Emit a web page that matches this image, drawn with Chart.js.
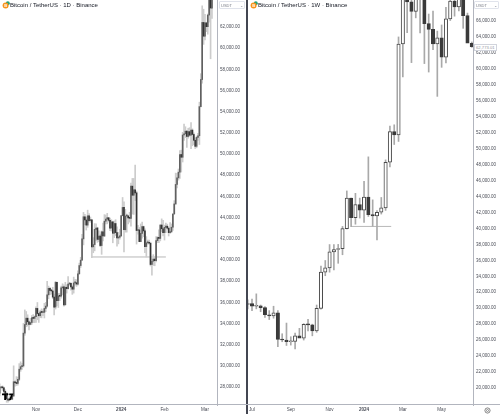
<!DOCTYPE html>
<html>
<head>
<meta charset="utf-8">
<script src="https://cdn.jsdelivr.net/npm/chart.js@4.4.0/dist/chart.umd.min.js"></script>
<style>
  html, body { margin: 0; padding: 0; background: #fff; }
  #wrap { position: relative; width: 500px; height: 414px; overflow: hidden; font-family: "Liberation Sans", Arial, sans-serif; }
  canvas { position: absolute; top: 0; }
  .title { position: absolute; top: 2px; font-size: 6px; color: #131722; white-space: nowrap; line-height: 7px; }
  .unit { position: absolute; top: 1px; height: 8px; font-size: 4px; color: #787b86; line-height: 8px; background: #fff; border: 0.5px solid #e0e3eb; border-radius: 1px; box-sizing: border-box; padding-left: 1px; }
  .unit span { position: absolute; right: 1px; top: 0; }
  .vline { position: absolute; top: 0; height: 414px; }
  .hline { position: absolute; left: 0; width: 500px; height: 1px; background: #b2b5be; }
  .last { position: absolute; font-size: 4.2px; color: #9598a1; border: 0.5px solid #d1d4dc; background: #fff; padding: 0 1px; line-height: 5px; }
  svg { position: absolute; }
</style>
</head>
<body>
<div id="wrap">
  <canvas id="cl" width="247" height="414" style="left:0"></canvas>
  <canvas id="cr" width="252" height="414" style="left:248px"></canvas>
  <div class="vline" style="left:246px;width:2px;background:#434651"></div>
  <div class="hline" style="top:404px"></div>

  <svg style="left:2px;top:1px" width="8" height="8" viewBox="0 0 8 8">
    <circle cx="5.8" cy="2.2" r="2" fill="#26a17b"/>
    <circle cx="3.6" cy="4.4" r="3" fill="#f7931a"/>
    <text x="3.6" y="6" font-size="4" font-weight="bold" fill="#fff" text-anchor="middle" font-family="Liberation Sans">B</text>
  </svg>
  <div class="title" style="left:10px">Bitcoin / TetherUS · 1D · Binance</div>
  <svg style="left:250px;top:1px" width="8" height="8" viewBox="0 0 8 8">
    <circle cx="5.8" cy="2.2" r="2" fill="#26a17b"/>
    <circle cx="3.6" cy="4.4" r="3" fill="#f7931a"/>
    <text x="3.6" y="6" font-size="4" font-weight="bold" fill="#fff" text-anchor="middle" font-family="Liberation Sans">B</text>
  </svg>
  <div class="title" style="left:258px">Bitcoin / TetherUS · 1W · Binance</div>

  <div class="unit" style="left:219px;width:26px">USDT<span>⌄</span></div>
  <div class="unit" style="left:474px;width:25px">USDT<span>⌄</span></div>
  <div class="last" style="left:474px;top:44px">62,773.01</div>

  <svg style="left:2px;top:393px" width="12" height="8" viewBox="0 0 12 8">
    <path d="M0 0.5 H4 V7 H2.2 V2.2 H0 Z" fill="#000"/>
    <circle cx="5.4" cy="1.3" r="1.1" fill="#000"/>
    <path d="M7.2 0.5 H11.5 L8.8 7 H6.8 L8.9 2.2 H7.2 Z" fill="#000"/>
  </svg>
  <svg style="left:484px;top:407px" width="7" height="7" viewBox="0 0 7 7">
    <circle cx="3.5" cy="3.5" r="2.6" fill="none" stroke="#555" stroke-width="0.7"/>
    <circle cx="3.5" cy="3.5" r="1" fill="none" stroke="#555" stroke-width="0.6"/>
  </svg>
</div>

<script>
// ---- daily panel (day 0 = 1 Oct 2023, first candle 6 Oct 2023) ----
const dailyStartDay = 5;
const dailyOpen = [
  27410, 27930, 27950, 27920, 27590, 27390, 26870, 26760, 26860, 26850, 27150, 28500, 28400, 28330, 28720, 29680, 29920, 29990, 33090, 33900, 34500, 34160, 33910, 34090, 34540, 34480,
  34640, 35420, 34940, 34730, 35080, 35040, 35050, 35420, 35640, 36700, 37320, 37130, 37070, 36490, 35550, 37880, 36160, 36600, 36570, 37360, 37450, 35760, 37420, 37290, 37720, 37790, 37450, 37240, 37830, 37850,
  37720, 38690, 39470, 39980, 41990, 44080, 43770, 43290, 44170, 43720, 43790, 41240, 41450, 42890, 43020, 41940, 42260, 41360, 42660, 42260, 43660, 43860, 43990, 43740, 43010, 43600, 42520, 43440, 42580, 42070, 42140,
  42280, 44180, 44960, 42850, 44150, 44160, 43970, 43930, 46970, 46110, 46630, 46340, 42780, 42840, 41730, 42510, 43150, 42740, 41260, 41620, 41670, 41580, 39570, 39880, 40080, 39930, 41820, 42120, 42030, 43300, 42950,
  42580, 43080, 43190, 43000, 42580, 42660, 43090, 44340, 45290, 47130, 47750, 48290, 49960, 49700, 51800, 51910, 52160, 51660, 52120, 51780, 52260, 51850, 51300, 50730, 51570, 51730, 54480, 57040, 62430,
  61130, 62390, 62030, 63130, 68240, 63790
];
const dailyHigh = [
  28290, 28050, 28110, 27990, 27740, 27480, 26940, 27090, 26980, 27290, 30000, 28610, 28980, 28940, 30210, 30380, 30240, 34000, 35280, 35130, 34820, 34250, 34480, 34750, 34840, 34720,
  35570, 35980, 34950, 35250, 35380, 35280, 35900, 35990, 37970, 37530, 37410, 37230, 37420, 36770, 37980, 37920, 36850, 36850, 37530, 37750, 37650, 37890, 37660, 38420, 37890, 37840, 37560, 38380, 38170, 38140,
  38980, 39700, 40250, 42420, 44490, 44300, 44050, 44700, 44370, 44050, 43790, 42100, 43430, 43420, 43090, 42750, 42440, 42740, 43490, 44280, 44240, 44400, 43990, 43950, 43800, 43600, 43680, 43800, 43120, 42610, 42900,
  44190, 45900, 45500, 44770, 44340, 44230, 44500, 47250, 47700, 47700, 48970, 46500, 43260, 43070, 43400, 43580, 43200, 42930, 42200, 41880, 41870, 41680, 40130, 40500, 40280, 42200, 42200, 42840, 43310, 43880, 43750,
  43290, 43490, 43380, 43120, 43530, 43400, 44380, 45600, 48200, 48170, 48590, 50330, 50370, 52050, 52820, 52580, 52200, 52440, 52490, 52980, 52380, 52000, 51540, 51700, 51960, 54900, 57590, 64000, 63680,
  63200, 62450, 63230, 68500, 69000, 67640
];
const dailyLow = [
  27160, 27860, 27690, 27270, 27290, 26560, 26560, 26690, 26820, 26800, 27110, 28080, 28140, 28180, 28600, 29480, 29660, 29880, 32880, 33690, 33750, 33390, 33870, 33920, 34080, 34080,
  34090, 34350, 34100, 34550, 34530, 34730, 34520, 35110, 35530, 36330, 36720, 36770, 36350, 34800, 35360, 35680, 35510, 36160, 36390, 36700, 35630, 35740, 36870, 37250, 37600, 37150, 36750, 36870, 37620, 37500,
  37620, 38650, 39290, 39980, 41420, 43340, 42820, 43080, 43580, 43560, 40220, 40680, 40860, 41820, 41660, 41730, 41250, 40530, 41800, 42200, 43400, 43410, 43580, 42760, 42730, 41620, 42110, 42300, 41300, 41520, 41960,
  42200, 44150, 40750, 42620, 42630, 43400, 43570, 43200, 44330, 44300, 45600, 41500, 42440, 41720, 41720, 42050, 42200, 40680, 40280, 41500, 41500, 39430, 38560, 39480, 39450, 39820, 41640, 41620, 41800, 42680, 42270,
  41880, 42580, 42880, 42260, 42500, 42570, 42780, 44330, 45240, 46800, 47540, 47710, 48300, 49250, 51280, 51560, 50630, 51500, 51670, 50520, 50780, 50890, 50520, 50590, 51280, 50900, 54450, 56690, 60360,
  60770, 61560, 61320, 62460, 59000, 62800
];
const dailyClose = [
  27930, 27950, 27920, 27590, 27390, 26870, 26760, 26860, 26850, 27150, 28500, 28400, 28330, 28720, 29680, 29920, 29990, 33090, 33900, 34500, 34160, 33910, 34090, 34540, 34480, 34640,
  35420, 34940, 34730, 35080, 35040, 35050, 35420, 35640, 36700, 37320, 37130, 37070, 36490, 35550, 37880, 36160, 36600, 36570, 37360, 37450, 35760, 37420, 37290, 37720, 37790, 37450, 37240, 37830, 37850, 37720,
  38690, 39470, 39980, 41990, 44080, 43770, 43290, 44170, 43720, 43790, 41240, 41450, 42890, 43020, 41940, 42260, 41360, 42660, 42260, 43660, 43860, 43990, 43740, 43010, 43600, 42520, 43440, 42580, 42070, 42140, 42280,
  44180, 44960, 42850, 44150, 44160, 43970, 43930, 46970, 46110, 46630, 46340, 42780, 42840, 41730, 42510, 43150, 42740, 41260, 41620, 41670, 41580, 39570, 39880, 40080, 39930, 41820, 42120, 42030, 43300, 42950, 42580,
  43080, 43190, 43000, 42580, 42660, 43090, 44340, 45290, 47130, 47750, 48290, 49960, 49700, 51800, 51910, 52160, 51660, 52120, 51780, 52260, 51850, 51300, 50730, 51570, 51730, 54480, 57040, 62430, 61130,
  62390, 62030, 63130, 68240, 63790, 66100
];
const dailyTickDays = [31, 61, 92, 123, 152];
const dailyTickLabels = ['Nov', 'Dec', '2024', 'Feb', 'Mar'];
const dailyPriceTicks = [28000, 30000, 32000, 34000, 36000, 38000, 40000, 42000, 44000, 46000, 48000, 50000, 52000, 54000, 56000, 58000, 60000, 62000];
const dailyLevel = 40280;
const dailyLevelDays = [71, 124];

// ---- weekly panel (week 0 = 3 Jul 2023) ----
const weeklyStartWeek = -1;
const weeklyOpen = [
  30470, 30590, 30250, 30290, 30080, 29180, 29050, 29410, 26100, 26020, 25800, 25830, 26530, 26250, 27970, 27920, 27150, 29990, 34520, 35050, 37060, 37360, 37450,
  39970, 43790, 41360, 42990, 42280, 43930, 41730, 41580, 42030, 42580, 48300, 52140, 51730, 63110, 68960, 68390, 67210, 71280, 69360, 65660, 64940, 63110, 63890,
  61480, 66270, 68500, 67750, 69650, 66680, 63210
];
const weeklyHigh = [
  31050, 31160, 31800, 30400, 30200, 29700, 30250, 29700, 26800, 28140, 26430, 26880, 27480, 28060, 28600, 28000, 30400, 35280, 35980, 37980, 37980, 38000, 40250,
  44700, 43800, 44400, 43800, 45900, 48970, 43580, 42250, 43880, 48590, 52820, 52990, 64000, 69990, 73780, 68920, 71770, 71290, 72800, 66870, 67230, 64730, 65500,
  67700, 71980, 70600, 71950, 70190, 66990, 63370
];
const weeklyLow = [
  29900, 29680, 29920, 29560, 28860, 28580, 28750, 25170, 25800, 25330, 25380, 24900, 26380, 26010, 27170, 26540, 26980, 29880, 34070, 34520, 34800, 35630, 36700,
  39930, 40220, 40530, 41300, 40750, 41500, 40280, 38560, 41800, 42260, 47710, 50520, 50900, 59000, 64530, 60780, 66390, 64490, 60660, 59600, 62390, 56550, 60190,
  60750, 66060, 66600, 67250, 65080, 63380, 62700
];
const weeklyClose = [
  30590, 30250, 30290, 30080, 29180, 29050, 29410, 26100, 26020, 25800, 25830, 26530, 26250, 27970, 27920, 27150, 29990, 34520, 35050, 37060, 37360, 37450, 39970,
  43790, 41360, 42990, 42280, 43930, 41730, 41580, 42030, 42580, 48300, 52140, 51730, 63110, 68960, 68390, 67210, 71280, 69360, 65660, 64940, 63110, 63890, 61480,
  66270, 68500, 67750, 69650, 66680, 63210, 62773
];
const weeklyTickWeeks = [0, 9, 18, 26, 35, 44];
const weeklyTickLabels = ['Jul', 'Sep', 'Nov', '2024', 'Mar', 'May'];
const weeklyPriceTicks = [20000, 22000, 24000, 26000, 28000, 30000, 32000, 34000, 36000, 38000, 40000, 42000, 44000, 46000, 48000, 50000, 52000, 54000, 56000, 58000, 60000, 62000, 64000, 66000];
const weeklyLevel = 40250;
const weeklyLevelWeeks = [23, 32.3];

function fmt(v) {
  return v.toLocaleString('en-US', { minimumFractionDigits: 2, maximumFractionDigits: 2 });
}

// no label padding: the plot must fill the pane edge to edge
function noPad(s) {
  s.paddingTop = 0; s.paddingBottom = 0; s.paddingLeft = 0; s.paddingRight = 0;
}

function candleChart(canvas, c) {
  const xs = c.open.map((_, i) => c.start + i);
  const up = c.open.map((o, i) => c.close[i] >= o);
  return new Chart(canvas, {
    type: 'bar',
    data: {
      datasets: [
        {
          type: 'line',
          data: c.levelX.map(x => ({ x: x, y: c.level })),
          borderColor: '#b8b8b8', borderWidth: 1, pointRadius: 0, order: 3
        },
        {
          data: xs.map((x, i) => ({ x: x, y: [c.low[i], c.high[i]] })),
          backgroundColor: c.wick, barThickness: 1, grouped: false, order: 2
        },
        {
          data: xs.map((x, i) => ({ x: x, y: [c.open[i], c.close[i]] })),
          backgroundColor: up.map(u => u ? c.upFill : c.downFill),
          borderColor: up.map(u => u ? c.upLine : c.downLine),
          borderWidth: c.bw, borderSkipped: false, minBarLength: 1,
          barThickness: c.bodyW, grouped: false, order: 1
        }
      ]
    },
    options: {
      responsive: false,
      animation: false,
      events: [],
      layout: { padding: 0 },
      plugins: { legend: { display: false }, tooltip: { enabled: false } },
      scales: {
        x: {
          type: 'linear', offset: false,
          min: c.xMin, max: c.xMax,
          grid: { display: false, drawTicks: false },
          border: { display: false },
          afterFit(s) { s.height = 9; noPad(s); },
          afterBuildTicks(s) { s.ticks = c.ticks.map(v => ({ value: v })); },
          ticks: {
            autoSkip: false, maxRotation: 0, padding: 2, color: '#4a4d57',
            font: ctx => ({ family: 'Liberation Sans', size: 4.6, weight: c.tickLabels[ctx.index] === '2024' ? 'bold' : 'normal' }),
            callback: (v, i) => c.tickLabels[i]
          }
        },
        y: {
          position: 'right',
          min: c.yMin, max: c.yMax,
          grid: { display: false, drawTicks: false },
          border: { display: true, color: '#b2b5be', width: 1 },
          afterFit(s) { s.width = c.axisW; noPad(s); },
          afterBuildTicks(s) { s.ticks = c.priceTicks.map(v => ({ value: v })); },
          ticks: {
            padding: 3, color: '#4a4d57',
            font: { family: 'Liberation Sans', size: 4.5 },
            callback: v => fmt(v)
          }
        }
      }
    }
  });
}

candleChart(document.getElementById('cl'), {
  start: dailyStartDay, open: dailyOpen, high: dailyHigh, low: dailyLow, close: dailyClose,
  ticks: dailyTickDays, tickLabels: dailyTickLabels, priceTicks: dailyPriceTicks,
  level: dailyLevel, levelX: dailyLevelDays,
  xMin: 5.23, xMax: 160.6, yMin: 26300, yMax: 64550, axisW: 30,
  wick: '#cccccc', bodyW: 1, bw: 0,
  upFill: '#606060', upLine: '#606060', downFill: '#333333', downLine: '#333333'
});

candleChart(document.getElementById('cr'), {
  start: weeklyStartWeek, open: weeklyOpen, high: weeklyHigh, low: weeklyLow, close: weeklyClose,
  ticks: weeklyTickWeeks, tickLabels: weeklyTickLabels, priceTicks: weeklyPriceTicks,
  level: weeklyLevel, levelX: weeklyLevelWeeks,
  xMin: -0.93, xMax: 51.28, yMin: 17870, yMax: 68630, axisW: 27,
  wick: '#a9a9a9', bodyW: 3.4, bw: 1,
  upFill: '#ffffff', upLine: '#4a4a4a', downFill: '#3a3a3a', downLine: '#3a3a3a'
});
</script>
</body>
</html>
